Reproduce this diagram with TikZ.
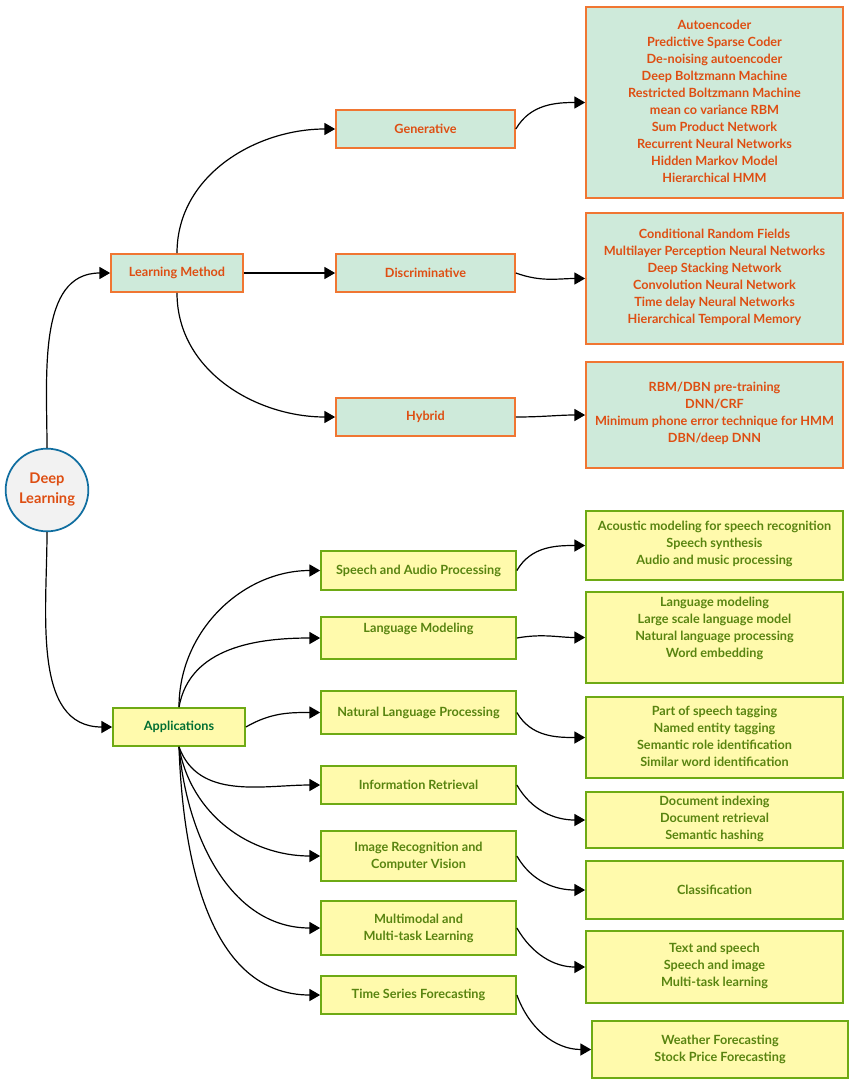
\documentclass[tikz,border=0pt]{standalone}
\usepackage{fontspec}
\setmainfont{Lato}
\usetikzlibrary{fit,arrows.meta}
\definecolor{otext}{RGB}{222,78,18}
\definecolor{oline}{RGB}{240,118,50}
\definecolor{gfill}{RGB}{206,234,218}
\definecolor{ytext}{RGB}{88,132,16}
\definecolor{yline}{RGB}{110,170,20}
\definecolor{yfill}{RGB}{255,250,172}
\definecolor{apptext}{RGB}{0,110,50}
\definecolor{cline}{RGB}{16,110,160}
\tikzset{
 obox/.style={draw=oline,fill=gfill,line width=1.3pt,inner sep=0pt,rectangle},
 ybox/.style={draw=yline,fill=yfill,line width=1.3pt,inner sep=0pt,rectangle},
 otx/.style={text=otext,align=center,font=\fontsize{9.5}{12.75}\selectfont\bfseries},
 ytx/.style={text=ytext,align=center,font=\fontsize{9.5}{12.75}\selectfont\bfseries},
 conn/.style={line width=0.9pt,-{Triangle[length=8pt,width=9pt]}},
}
\begin{document}
\begin{tikzpicture}[x=0.75pt,y=-0.75pt]
\useasboundingbox[fill=white] (0,0) rectangle (855,1085);
% root
\node[circle,draw=cline,fill=black!5,line width=1.3pt,minimum size=62pt,text=otext,align=center,font=\fontsize{11}{15}\selectfont\bfseries] (dl) at (47,490) {Deep\\Learning};
% helper
\newcommand\bx[7]{\node[#2,fit={(#3,#4)(#5,#6)}] (#1) {};}
% level 1
\bx{lm}{obox}{111}{254}{243}{292}{} \node[otx] at (lm.center) {Learning Method};
\bx{ap}{ybox}{113}{708}{245}{746}{} \node[ytx,text=apptext] at (ap.center) {Applications};
% learning methods
\bx{gen}{obox}{336}{110}{515}{148}{} \node[otx] at (gen.center) {Generative};
\bx{dis}{obox}{336}{254}{515}{292}{} \node[otx] at (dis.center) {Discriminative};
\bx{hyb}{obox}{336}{398}{515}{436}{} \node[otx] at (hyb.center) {Hybrid};
\bx{genl}{obox}{586}{7}{843}{198}{} \node[otx] at (714.5,101) {Autoencoder\\Predictive Sparse Coder\\De-noising autoencoder\\Deep Boltzmann Machine\\Restricted Boltzmann Machine\\mean co variance RBM\\Sum Product Network\\Recurrent Neural Networks\\Hidden Markov Model\\Hierarchical HMM};
\bx{disl}{obox}{586}{213}{843}{344}{} \node[otx] at (714.5,277) {Conditional Random Fields\\Multilayer Perception Neural Networks\\Deep Stacking Network\\Convolution Neural Network\\Time delay Neural Networks\\Hierarchical Temporal Memory};
\bx{hybl}{obox}{586}{362}{843}{468}{} \node[otx] at (714.5,413) {RBM/DBN pre-training\\DNN/CRF\\Minimum phone error technique for HMM\\DBN/deep DNN};
% applications
\bx{sp}{ybox}{321}{551}{516}{590}{} \node[ytx] at (sp.center) {Speech and Audio Processing};
\bx{lg}{ybox}{321}{617}{516}{659}{} \node[ytx] at (418.5,629) {Language Modeling};
\bx{nl}{ybox}{321}{691}{516}{734}{} \node[ytx] at (nl.center) {Natural Language Processing};
\bx{ir}{ybox}{321}{766}{516}{804}{} \node[ytx] at (ir.center) {Information Retrieval};
\bx{im}{ybox}{321}{831}{516}{881}{} \node[ytx] at (im.center) {Image Recognition and\\Computer Vision};
\bx{mm}{ybox}{321}{901}{516}{955}{} \node[ytx] at (mm.center) {Multimodal and\\Multi-task Learning};
\bx{ts}{ybox}{321}{976}{516}{1014}{} \node[ytx] at (ts.center) {Time Series Forecasting};
% app lists
\bx{spl}{ybox}{586}{511}{843}{580}{} \node[ytx] at (714.5,544) {Acoustic modeling for speech recognition\\Speech synthesis\\Audio and music processing};
\bx{lgl}{ybox}{586}{592}{843}{683}{} \node[ytx] at (714.5,628) {Language modeling\\Large scale language model\\Natural language processing\\Word embedding};
\bx{nll}{ybox}{586}{697}{843}{778}{} \node[ytx] at (714.5,736) {Part of speech tagging\\Named entity tagging\\Semantic role identification\\Similar word identification};
\bx{irl}{ybox}{586}{792}{843}{848}{} \node[ytx] at (714.5,819) {Document indexing\\Document retrieval\\Semantic hashing};
\bx{iml}{ybox}{586}{861}{843}{919}{} \node[ytx] at (iml.center) {Classification};
\bx{mml}{ybox}{586}{931}{843}{1003}{} \node[ytx] at (714.5,966) {Text and speech\\Speech and image\\Multi-task learning};
\bx{tsl}{ybox}{592}{1021}{848}{1078}{} \node[ytx] at (720,1049) {Weather Forecasting\\Stock Price Forecasting};
% connectors
\draw[conn] (dl.north) to[out=90,in=180] (lm.west);
\draw[conn] (dl.south) to[out=-90,in=180] (ap.west);
\draw[conn] (lm.north) to[out=90,in=180] (gen.west);
\draw[conn] (lm.east) -- (dis.west);
\draw[conn] (lm.south) to[out=-90,in=180] (hyb.west);
\draw[conn] (gen.east) to[out=60,in=180] (genl.west);
\draw[conn] (dis.east) to[out=-20,in=180] (disl.west);
\draw[conn] (hyb.east) to[out=0,in=180] (hybl.west);
\draw[conn] (ap.north) to[out=90,in=180] (sp.west);
\draw[conn] (ap.north) to[out=80,in=180] (lg.west);
\draw[conn] (ap.east) to[out=30,in=180] (nl.west);
\draw[conn] (ap.south) to[out=-70,in=180] (ir.west);
\draw[conn] (ap.south) to[out=-80,in=180] (im.west);
\draw[conn] (ap.south) to[out=-85,in=180] (mm.west);
\draw[conn] (ap.south) to[out=-88,in=180] (ts.west);
\draw[conn] (sp.east) to[out=60,in=180] (spl.west);
\draw[conn] (lg.east) to[out=10,in=180] (lgl.west);
\draw[conn] (nl.east) to[out=-60,in=180] (nll.west);
\draw[conn] (ir.east) to[out=-60,in=180] (irl.west);
\draw[conn] (im.east) to[out=-60,in=180] (iml.west);
\draw[conn] (mm.east) to[out=-60,in=180] (mml.west);
\draw[conn] (ts.east) to[out=-70,in=180] (tsl.west);
\end{tikzpicture}
\end{document}
